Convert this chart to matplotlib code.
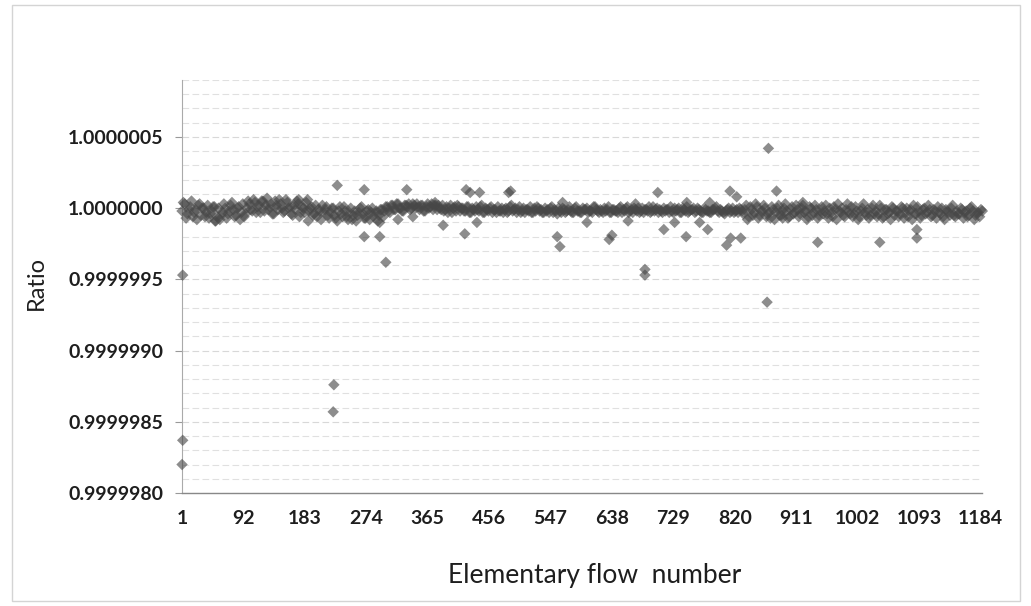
import numpy as np
import matplotlib
matplotlib.use("Agg")
import matplotlib.pyplot as plt
from matplotlib.patches import Rectangle
from matplotlib.ticker import FixedLocator, FormatStrFormatter, MultipleLocator

# ---------------- data (deviations from 1.0 in units of 1e-8) ----------------
band_step = 4
band_seg1_start = 1      # flows 1..297
band_seg1 = [-2, 3, -4, 1, -6, -1, 2, -5, 0, -3,
             -7, -2, 1, -6, -8, -3, 0, -4, 2, -1,
             -5, 1, -3, -6, 0, 3, -2, 4, 1, -3,
             5, 2, -1, 3, -4, 2, 6, 0, -2, 4,
             1, -5, -1, 3, -3, 0, 4, -2, 1, -4,
             -6, -2, 2, -1, -5, -3, 0, -7, -2, -4,
             1, -6, -3, -8, -2, -5, 0, -4, -7, -1,
             -3, -6, -2, -5, -1]
band_seg1b_start = 3     # flows 3..299
band_seg1b = [4, -7, -1, 5, -3, -8, 3, 0, -6, 2,
              -4, 1, -9, 0, -5, 3, -7, -2, 4, -6,
              0, -8, 3, -4, 5, -1, 6, -3, 2, 5,
              -2, 7, 1, -4, 5, -1, 3, -3, 6, 0,
              -4, 2, 5, -6, 1, -3, 6, 0, -5, 2,
              -1, -8, -3, 1, -7, 0, -5, -9, 1, -6,
              -2, -8, 0, -5, -9, -3, 1, -7, -2, -8,
              0, -4, -9, -1, -6]
band_seg2_start = 301    # flows 301..829 (dense strip)
band_seg2 = [-2, 1, -3, 2, -1, 3, 0, -2, 2, 3,
             0, 2, 3, -1, 2, -2, 3, 1, -1, 2,
             2, -1, -2, 1, 0, -3, 1, 2, -2, 0,
             -2, 1, -3, -1, 1, -2, 2, -3, -1, 0,
             -3, -1, 1, -2, -3, 0, -2, 2, -1, -3,
             1, -2, -3, -1, 1, -3, -2, 0, -1, -3,
             -2, -3, 1, -1, -4, -2, 0, -3, -1, -2,
             -3, 1, -2, -3, -1, 0, -2, -3, 1, -2,
             -1, -3, -2, 1, -3, -1, -2, 0, -3, -2,
             1, -2, -3, -1, 0, -2, -3, -1, 1, -2,
             -2, 0, -1, -3, -2, -1, 1, -3, -2, 0,
             -3, -1, 1, -2, -1, -3, 0, -2, -3, -1,
             -2, -3, -1, 1, -3, -2, -4, -1, -3, 0,
             -2, -3, -1]
band_seg2b_start = 303   # flows 303..831
band_seg2b = [1, -2, 2, -1, 3, 0, -2, 2, 1, -1,
              3, 0, 1, 2, -2, 1, 0, 3, 2, -1,
              0, 2, -1, -3, 2, 0, -2, 1, 0, -2,
              1, -3, 0, -2, -1, 1, -3, 0, -2, 1,
              -1, -3, -2, 0, -1, -3, 1, -2, 0, -1,
              -3, 0, -1, -2, -3, 0, 1, -2, -3, 0,
              -1, 0, -3, -2, 0, -3, -1, -2, 1, -3,
              0, -2, -3, 0, -1, -3, -2, 1, -1, -3,
              -2, 0, -1, -3, -1, -2, -3, 1, -1, 0,
              -3, -1, 0, -2, -3, 0, -1, -2, -3, 1,
              -1, -3, -2, 0, -1, -3, -2, 0, -1, -3,
              0, -2, -3, -1, 0, -2, -1, -3, 0, -2,
              -3, -1, 0, -2, -1, -3, -2, 0, -2, -3,
              -1, 0, -2]
band_seg3_start = 833    # flows 833..1185
band_seg3 = [-4, 2, -6, -1, -3, 1, -5, -2, 0, -4,
             -7, -1, -3, 2, -5, 0, -2, -6, 1, -3,
             -1, -4, 2, -2, -6, 0, -3, -1, -5, 1,
             -2, -4, 0, -6, -1, 3, -3, -5, -1, -2,
             1, -4, -2, -6, 0, -3, -1, -5, 2, -2,
             -4, 0, -6, -1, -3, 1, -5, -2, -4, 0,
             -3, -6, -1, 2, -4, -2, -5, 0, -3, -1,
             -5, -2, 1, -4, -6, -1, -3, 0, -5, -2,
             -4, -1, -3, -6, 0, -2, -5, -3, -1]
band_seg3b_start = 835   # flows 835..1187
band_seg3b = [-1, -8, 1, -5, 3, -7, -2, 2, -6, -3,
              1, -8, 0, -5, -2, 3, -7, -1, -4, 2,
              -6, 0, -3, -8, 1, -5, 2, -7, -2, -4,
              2, -7, -3, 1, -8, -2, 0, -6, 3, -4,
              -6, 1, -8, -2, 3, -5, -7, 0, -4, -6,
              2, -7, -1, -4, -8, 0, -2, -6, 1, -7,
              0, -2, -8, -4, 1, -7, -1, -4, 2, -6,
              -1, -7, -3, 0, -8, -2, -5, 2, -6, -4,
              0, -7, -2, -5, 1, -8, -3, -6, -2]

outlier_flows = [231, 271, 334, 422, 428, 442, 485, 488, 174, 271,
                 294, 303, 420, 388, 294, 438, 2, 2, 1, 226,
                 225, 376, 321, 50, 188, 343,
                 706, 813, 823, 565, 749, 783, 557, 561, 638, 634,
                 715, 748, 768, 780, 814, 829, 808, 601, 731, 687,
                 687, 662, 673,
                 870, 882, 921, 943, 1035, 1090, 1090, 868, 891]
outlier_dev = [16, 13, 13, 13, 11, 11, 11, 12, 6, -20,
               -20, -38, -18, -12, -10, -10, -47, -163, -180, -124,
               -143, 4, -8, -9, -9, -6,
               11, 12, 8, 4, 4, 4, -20, -27, -19, -22,
               -15, -20, -10, -15, -21, -21, -26, -10, -10, -47,
               -43, -9, 3,
               42, 12, 4, -24, -24, -15, -21, -66, -7]

xtick_labels = [1, 92, 183, 274, 365, 456, 547, 638, 729, 820, 911, 1002, 1093, 1184]
ytick_values = [0.9999980, 0.9999985, 0.9999990, 0.9999995, 1.0000000, 1.0000005]
n_flows = 1187
ylim = (0.9999980, 1.0000009)

# ---------------- build series ----------------
xs, ys = [], []
for start, seg in [(band_seg1_start, band_seg1), (band_seg1b_start, band_seg1b),
                   (band_seg2_start, band_seg2), (band_seg2b_start, band_seg2b),
                   (band_seg3_start, band_seg3), (band_seg3b_start, band_seg3b)]:
    xs.extend(start + band_step * np.arange(len(seg)))
    ys.extend(1.0 + np.array(seg) * 1e-8)
xs.extend(outlier_flows)
ys.extend(1.0 + np.array(outlier_dev) * 1e-8)
xs = np.array(xs, dtype=float)
ys = np.array(ys)

# ---------------- figure ----------------
W, H = 1031, 606
fig = plt.figure(figsize=(W / 100, H / 100), dpi=100)
fig.patch.set_facecolor("white")
fig.patches.append(Rectangle((12 / W, 1 - 601 / H), (1020 - 12) / W, (601 - 5) / H,
                             transform=fig.transFigure, fill=False,
                             edgecolor="#d4d4d4", linewidth=1.0))

ax = fig.add_axes([181.7 / W, 1 - 493 / H, (982 - 181.7) / W, (493 - 80) / H])
ax.set_xlim(0.5, n_flows - 0.5)
ax.set_ylim(*ylim)

# faint minor gridlines (every 1e-7)
ax.yaxis.set_minor_locator(MultipleLocator(1e-7))
ax.grid(which="minor", axis="y", color="#e0e0e0", linestyle=(0, (6, 3)), linewidth=0.8)
ax.grid(which="major", axis="y", color="#d8d8d8", linestyle=(0, (6, 3)), linewidth=0.8)
ax.set_axisbelow(True)

ax.scatter(xs, ys, marker="D", s=34, color="#474747", alpha=0.62,
           edgecolors="none", zorder=3, clip_on=False)

ax.yaxis.set_major_locator(FixedLocator(ytick_values))
ax.yaxis.set_major_formatter(FormatStrFormatter("%.7f"))
ax.set_xticks(xtick_labels)
ax.set_xticklabels([str(v) for v in xtick_labels])

for lab in ax.get_xticklabels() + ax.get_yticklabels():
    lab.set_fontfamily("Lato")
    lab.set_fontweight("bold")
    lab.set_fontsize(14)
    lab.set_color("#1e1e1e")

ax.tick_params(axis="y", which="major", direction="out", length=5, width=0.8,
               color="#999999", pad=8)
ax.tick_params(axis="y", which="minor", length=0)
ax.tick_params(axis="x", length=0, pad=12)

for s in ["top", "right"]:
    ax.spines[s].set_visible(False)
ax.spines["left"].set_color("#aaaaaa")
ax.spines["left"].set_linewidth(0.8)
ax.spines["bottom"].set_color("#888888")
ax.spines["bottom"].set_linewidth(1.0)

fig.text(36 / W, 1 - 283 / H, "Ratio", rotation=90, ha="center", va="center",
         fontfamily="Lato", fontsize=17, color="#1e1e1e")
fig.text(595 / W, 1 - 575 / H, "Elementary flow  number", ha="center", va="center",
         fontfamily="Lato", fontsize=19, color="#1e1e1e")

fig.savefig("out.png", dpi=100, facecolor="white")
